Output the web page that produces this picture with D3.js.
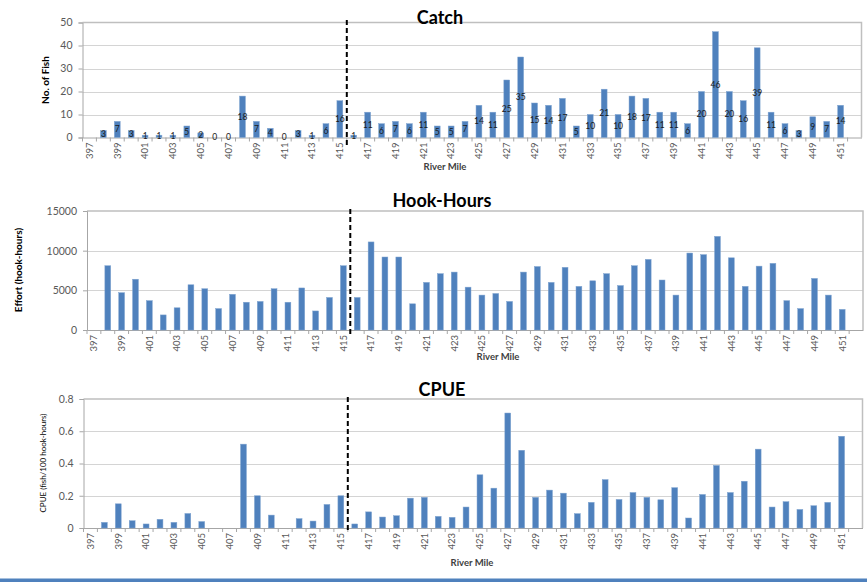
<!DOCTYPE html>
<html>
<head>
<meta charset="utf-8">
<script src="https://cdn.jsdelivr.net/npm/d3@7"></script>
<style>
  html, body { margin: 0; padding: 0; background: #fff; }
  svg { display: block; }
</style>
</head>
<body>
<div id="chart"></div>
<script>
// River mile categories along the x axis (397 and 452 carry no sample)
const riverMiles = [397,398,399,400,401,402,403,404,405,406,407,408,409,410,411,412,413,414,415,416,417,418,419,420,421,422,423,424,425,426,427,428,429,430,431,432,433,434,435,436,437,438,439,440,441,442,443,444,445,446,447,448,449,450,451,452];
// Miles that get a tick label
const tickLabels = [397,399,401,403,405,407,409,411,413,415,417,419,421,423,425,427,429,431,433,435,437,439,441,443,445,447,449,451];

// Catch (number of fish) per river mile
const catchFish = [null,3,7,3,1,1,1,5,2,0,0,18,7,4,0,3,1,6,16,1,11,6,7,6,11,5,5,7,14,11,25,35,15,14,17,5,10,21,10,18,17,11,11,6,20,46,20,16,39,11,6,3,9,7,14,null];

// Effort (hook-hours) per river mile
const hookHours = [null,8100,4700,6400,3700,1900,2800,5700,5200,2700,4500,3500,3600,5200,3500,5300,2400,4100,8100,4100,11100,9200,9200,3300,6000,7100,7300,5400,4400,4600,3600,7300,8000,6000,7900,5500,6200,7100,5600,8100,8900,6300,4400,9700,9500,11800,9100,5500,8050,8400,3700,2700,6500,4400,2600,null];

// CPUE (fish per 100 hook-hours) per river mile
const cpue = [null,0.035,0.15,0.045,0.025,0.054,0.035,0.09,0.04,0,0,0.52,0.2,0.08,0,0.058,0.043,0.146,0.2,0.025,0.1,0.068,0.076,0.185,0.19,0.072,0.066,0.13,0.33,0.247,0.713,0.482,0.19,0.235,0.216,0.089,0.159,0.3,0.177,0.22,0.19,0.175,0.25,0.062,0.208,0.388,0.22,0.29,0.489,0.13,0.163,0.115,0.138,0.159,0.569,null];

// Y-axis ticks for each panel
const catchTicks = [0,10,20,30,40,50];
const hookTicks = [0,5000,10000,15000];
const cpueTicks = [0,0.2,0.4,0.6,0.8];

// Boundary mile for the dashed reference line (between 415 and 416)
const dividerAfter = 415;

const W = 867, H = 582;
const BAR = "#4F81BD";
const FONT = "Lato, 'Open Sans', 'Liberation Sans', sans-serif";

const svg = d3.select("#chart").append("svg")
  .attr("width", W).attr("height", H);

// Panel layout
const panels = [
  { title: "Catch", values: catchFish, ticks: catchTicks, max: 50, fmt: d => d,
    x0: 82.5, x1: 861.5, y0: 22.5, y1: 137.5,
    titleX: 440, titleY: 24,
    yLabel: "No. of Fish", yLabelX: 45, yLabelY: 80, yLabelBold: true, yLabelSize: 10,
    xLabelX: 445, xLabelY: 170, dashTop: 20, dashBottom: 145, labels: true },
  { title: "Hook-Hours", values: hookHours, ticks: hookTicks, max: 15000, fmt: d => d,
    x0: 87, x1: 863, y0: 211, y1: 330,
    titleX: 442, titleY: 207,
    yLabel: "Effort (hook-hours)", yLabelX: 18, yLabelY: 270, yLabelBold: true, yLabelSize: 10,
    xLabelX: 498, xLabelY: 360, dashTop: 209, dashBottom: 334, labels: false },
  { title: "CPUE", values: cpue, ticks: cpueTicks, max: 0.8, fmt: d => d === 0 ? "0" : d3.format(".1f")(d),
    x0: 83.5, x1: 862.5, y0: 399, y1: 528,
    titleX: 442, titleY: 396,
    yLabel: "CPUE (fish/100 hook-hours)", yLabelX: 43, yLabelY: 463, yLabelBold: false, yLabelSize: 8,
    xLabelX: 472, xLabelY: 566, dashTop: 397, dashBottom: 531, labels: false }
];

panels.forEach(p => {
  const g = svg.append("g");
  const x = d3.scaleBand().domain(riverMiles).range([p.x0, p.x1]).paddingInner(0).paddingOuter(0);
  const y = d3.scaleLinear().domain([0, p.max]).range([p.y1, p.y0]);
  const bw = x.step() * 0.42;

  // gridlines
  g.append("g").selectAll("line").data(p.ticks.filter(t => t > 0 && t < p.max)).join("line")
    .attr("x1", p.x0).attr("x2", p.x1)
    .attr("y1", d => Math.round(y(d)) + 0.5).attr("y2", d => Math.round(y(d)) + 0.5)
    .attr("stroke", "#d4d4d4").attr("stroke-width", 1);

  // plot frame (top / right)
  g.append("path")
    .attr("d", `M${p.x0},${p.y0}H${p.x1}V${p.y1}`)
    .attr("fill", "none").attr("stroke", "#bfbfbf").attr("stroke-width", 1.5);

  // y axis
  const yAxis = d3.axisLeft(y).tickValues(p.ticks).tickFormat(p.fmt).tickSize(4).tickPadding(6);
  const ya = g.append("g").attr("transform", `translate(${p.x0},0)`).call(yAxis);
  ya.select(".domain").attr("stroke", "#a6a6a6");
  ya.selectAll(".tick line").attr("stroke", "#a6a6a6");
  ya.selectAll(".tick text").attr("fill", "#595959").style("font-family", FONT).style("font-size", "10.5px");

  // x axis
  const xAxis = d3.axisBottom(x).tickValues(tickLabels).tickSize(0).tickPadding(5);
  const xa = g.append("g").attr("transform", `translate(0,${p.y1})`).call(xAxis);
  xa.select(".domain").attr("stroke", "#a6a6a6");
  xa.selectAll(".tick text")
    .attr("fill", "#595959").style("font-family", FONT).style("font-size", "9.5px")
    .attr("transform", "rotate(-90)")
    .attr("text-anchor", "end").attr("dy", "0.35em").attr("y", 0).attr("x", -5);
  // category boundary tick marks
  g.append("g").selectAll("line").data(riverMiles).join("line")
    .attr("x1", d => x(d)).attr("x2", d => x(d))
    .attr("y1", p.y1).attr("y2", p.y1 + 4)
    .attr("stroke", "#a6a6a6");

  // bars
  const rows = riverMiles.map((m, i) => ({ m, v: p.values[i] })).filter(d => d.v !== null);
  g.append("g").selectAll("rect").data(rows).join("rect")
    .attr("x", d => x(d.m) + (x.step() - bw) / 2)
    .attr("width", bw)
    .attr("y", d => y(d.v))
    .attr("height", d => y(0) - y(d.v))
    .attr("fill", BAR)
    .attr("stroke", "#7fa3d0").attr("stroke-width", 0.5);

  // value labels at mid-bar
  if (p.labels) {
    g.append("g").selectAll("text").data(rows).join("text")
      .attr("x", d => x(d.m) + x.step() / 2)
      .attr("y", d => y(d.v / 2))
      .attr("dy", "0.35em")
      .attr("text-anchor", "middle")
      .style("font-family", FONT).style("font-size", "8.5px")
      .attr("fill", "#1a1a1a")
      .text(d => d.v);
  }

  // dashed reference line
  const xd = x(dividerAfter) + x.step();
  g.append("line")
    .attr("x1", xd).attr("x2", xd).attr("y1", p.dashTop).attr("y2", p.dashBottom)
    .attr("stroke", "#000").attr("stroke-width", 2).attr("stroke-dasharray", "5,3");

  // title
  g.append("text")
    .attr("x", p.titleX).attr("y", p.titleY)
    .attr("text-anchor", "middle")
    .style("font-family", FONT).style("font-size", "18px").style("font-weight", "bold")
    .attr("fill", "#000")
    .text(p.title);

  // y-axis title
  g.append("text")
    .attr("transform", `translate(${p.yLabelX},${p.yLabelY}) rotate(-90)`)
    .attr("text-anchor", "middle").attr("dy", "0.35em")
    .style("font-family", FONT).style("font-size", p.yLabelSize + "px")
    .style("font-weight", p.yLabelBold ? "bold" : "normal")
    .attr("fill", "#000")
    .text(p.yLabel);

  // x-axis title
  g.append("text")
    .attr("x", p.xLabelX).attr("y", p.xLabelY)
    .attr("text-anchor", "middle")
    .style("font-family", FONT).style("font-size", "9.5px").style("font-weight", "bold")
    .attr("fill", "#404040")
    .text("River Mile");
});

// bottom rule
svg.append("rect").attr("x", 0).attr("y", 578.5).attr("width", W).attr("height", 3.5).attr("fill", BAR);
</script>
</body>
</html>
